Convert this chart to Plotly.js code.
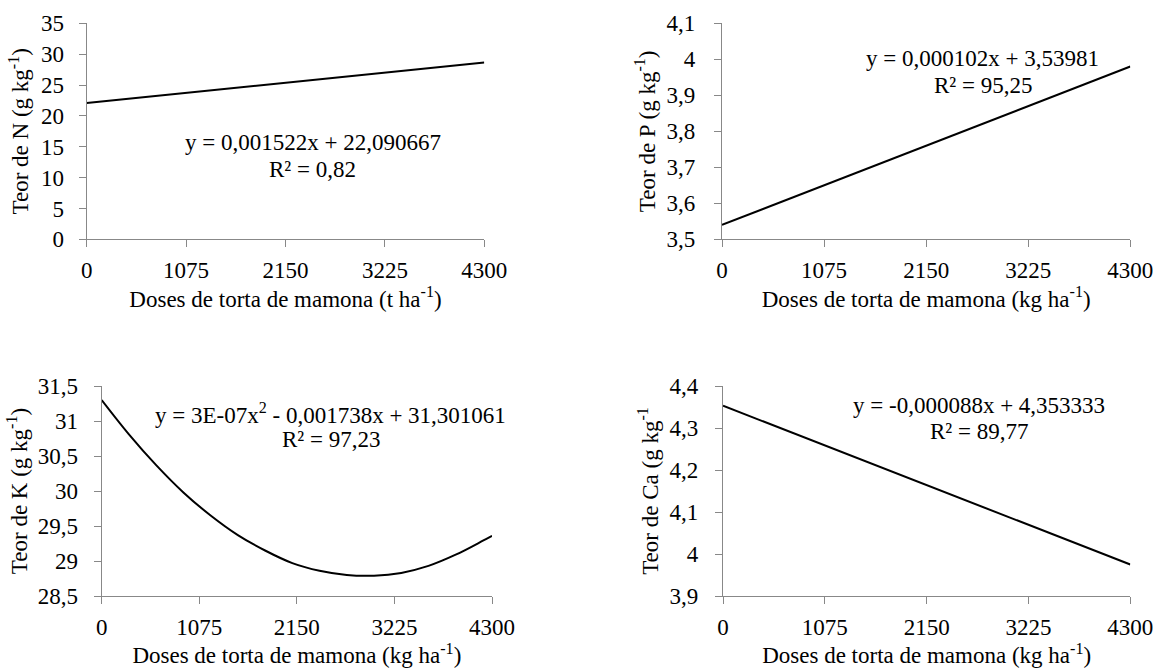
<!DOCTYPE html>
<html>
<head>
<meta charset="utf-8">
<script src="https://cdn.plot.ly/plotly-3.0.1.min.js"></script>
<style>html,body{margin:0;padding:0;background:#fff;}#chart{width:1157px;height:670px;}</style>
</head>
<body>
<div id="chart"></div>
<script>
// ---- data ----
const dosesLinear = [0, 4300];
const teorN = [22.09, 28.63];
const teorP = [3.54, 3.98];
const teorCa = [4.353, 3.975];
const dosesK = [0, 300, 600, 900, 1200, 1500, 1800, 2100, 2400, 2700, 3000, 3300, 3600, 3900, 4200, 4300];
const teorK = [31.30, 30.81, 30.37, 29.98, 29.65, 29.37, 29.15, 28.97, 28.86, 28.80, 28.79, 28.83, 28.93, 29.09, 29.29, 29.36];

const xTickVals = [0, 1075, 2150, 3225, 4300];
const xTickText = ['0', '1075', '2150', '3225', '4300'];
const nTickVals = [0, 5, 10, 15, 20, 25, 30, 35];
const nTickText = ['0', '5', '10', '15', '20', '25', '30', '35'];
const pTickVals = [3.5, 3.6, 3.7, 3.8, 3.9, 4.0, 4.1];
const pTickText = ['3,5', '3,6', '3,7', '3,8', '3,9', '4', '4,1'];
const kTickVals = [28.5, 29, 29.5, 30, 30.5, 31, 31.5];
const kTickText = ['28,5', '29', '29,5', '30', '30,5', '31', '31,5'];
const caTickVals = [3.9, 4.0, 4.1, 4.2, 4.3, 4.4];
const caTickText = ['3,9', '4', '4,1', '4,2', '4,3', '4,4'];

const eqN = ['y = 0,001522x + 22,090667', 'R² = 0,82'];
const eqP = ['y = 0,000102x + 3,53981', 'R² = 95,25'];
const eqK = ['y = 3E-07x<sup>2</sup> - 0,001738x + 31,301061', 'R² = 97,23'];
const eqCa = ['y = -0,000088x + 4,353333', 'R² = 89,77'];

const xTitleT = 'Doses de torta de mamona (t ha<sup>-1</sup>)';
const xTitleKg = 'Doses de torta de mamona (kg ha<sup>-1</sup>)';
const yTitles = ['Teor de N (g kg<sup>-1</sup>)', 'Teor de P (g kg<sup>-1</sup>)', 'Teor de K (g kg<sup>-1</sup>)', 'Teor de Ca (g kg<sup>-1</sup>'];

// ---- styling ----
const FONT = "'Liberation Serif', 'Times New Roman', Times, serif";
const FS = 23;
const AX = '#888888';
const lineStyle = {color: '#000000', width: 2};

const traces = [
  {x: dosesLinear, y: teorN, xaxis: 'x', yaxis: 'y', mode: 'lines', line: lineStyle, hoverinfo: 'skip'},
  {x: dosesLinear, y: teorP, xaxis: 'x2', yaxis: 'y2', mode: 'lines', line: lineStyle, hoverinfo: 'skip'},
  {x: dosesK, y: teorK, xaxis: 'x3', yaxis: 'y3', mode: 'lines', line: Object.assign({shape: 'spline'}, lineStyle), hoverinfo: 'skip'},
  {x: dosesLinear, y: teorCa, xaxis: 'x4', yaxis: 'y4', mode: 'lines', line: lineStyle, hoverinfo: 'skip'}
];

function xAxis(domain, anchor, title) {
  return {
    domain: domain, anchor: anchor, range: [0, 4300],
    tickmode: 'array', tickvals: xTickVals, ticktext: xTickText,
    showgrid: false, zeroline: false, showline: true, linecolor: AX, linewidth: 1.3,
    ticks: 'outside', ticklen: 7, tickcolor: AX, tickwidth: 1.3, ticklabelstandoff: 3,
    tickfont: {family: FONT, size: FS, color: '#000'},
    title: {text: title, font: {family: FONT, size: FS, color: '#000'}, standoff: 8}
  };
}
function yAxis(domain, anchor, range, vals, text, title, standoff, tstand) {
  return {
    domain: domain, anchor: anchor, range: range,
    tickmode: 'array', tickvals: vals, ticktext: text,
    showgrid: false, zeroline: false, showline: true, linecolor: AX, linewidth: 1.3,
    ticks: 'outside', ticklen: 7, tickcolor: AX, tickwidth: 1.3, ticklabelstandoff: standoff,
    tickfont: {family: FONT, size: FS, color: '#000'},
    title: {text: title, font: {family: FONT, size: FS, color: '#000'}, standoff: tstand}
  };
}

const W = 1157, H = 670;
const px = v => v / W, py = v => 1 - v / H;

function eq(lines, x, y1, y2) {
  return [
    {text: lines[0], x: px(x), y: py(y1), xref: 'paper', yref: 'paper', showarrow: false, xanchor: 'center', yanchor: 'middle', font: {family: FONT, size: FS, color: '#000'}},
    {text: lines[1], x: px(x), y: py(y2), xref: 'paper', yref: 'paper', showarrow: false, xanchor: 'center', yanchor: 'middle', font: {family: FONT, size: FS, color: '#000'}}
  ];
}

const layout = {
  width: W, height: H,
  margin: {l: 0, r: 0, t: 0, b: 0},
  paper_bgcolor: '#ffffff', plot_bgcolor: '#ffffff',
  showlegend: false,
  font: {family: FONT, size: FS, color: '#000'},
  xaxis: xAxis([px(86.7), px(484.3)], 'y', xTitleT),
  yaxis: yAxis([py(239.3), py(23.3)], 'x', [0, 35], nTickVals, nTickText, yTitles[0], 10, 5),
  xaxis2: xAxis([px(722), px(1130.3)], 'y2', xTitleKg),
  yaxis2: yAxis([py(239.3), py(23.3)], 'x2', [3.5, 4.1], pTickVals, pTickText, yTitles[1], 14, 4),
  xaxis3: xAxis([px(101.7), px(492)], 'y3', xTitleKg),
  yaxis3: yAxis([py(596), py(386)], 'x3', [28.5, 31.5], kTickVals, kTickText, yTitles[2], 11, 3),
  xaxis4: xAxis([px(723), px(1130.3)], 'y4', xTitleKg),
  yaxis4: yAxis([py(596), py(386)], 'x4', [3.9, 4.4], caTickVals, caTickText, yTitles[3], 12, 4),
  annotations: [].concat(
    eq(eqN, 312.5, 142.6, 169.2),
    eq(eqP, 982.6, 58.9, 85.4),
    eq(eqK, 331, 413.4, 439.2),
    eq(eqCa, 978.8, 405.3, 431.2)
  )
};

Plotly.newPlot('chart', traces, layout, {displayModeBar: false});
</script>
</body>
</html>
